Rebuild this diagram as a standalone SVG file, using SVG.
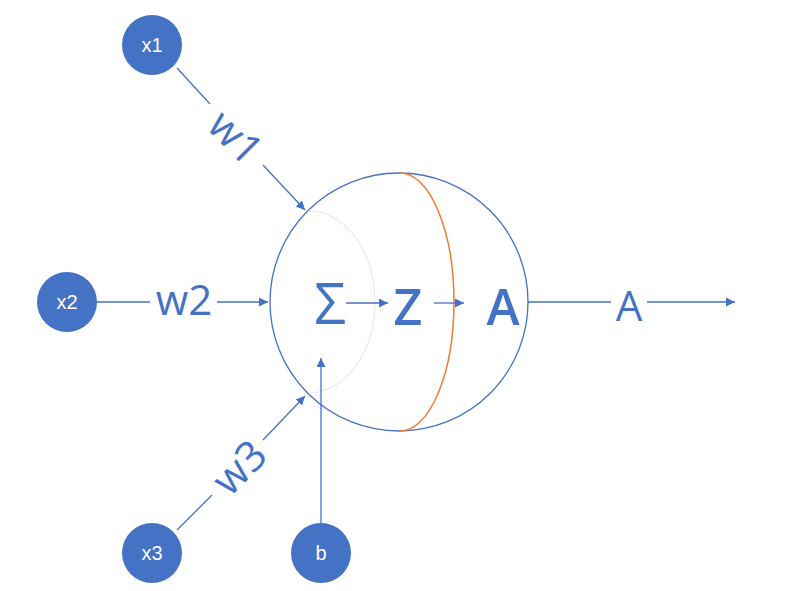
<svg xmlns="http://www.w3.org/2000/svg" width="806" height="591" viewBox="0 0 806 591">
<style>
.n{fill:#4472C4}
.nt{fill:#fff;font-family:"Liberation Sans",sans-serif;font-size:20px;text-anchor:middle;dominant-baseline:central}
.l{stroke:#4472C4;stroke-width:1.3;fill:none}
.big{fill:#4472C4;font-family:"Open Sans","Liberation Sans",sans-serif;text-anchor:middle;dominant-baseline:central}
</style>
<defs><marker id="ar" viewBox="0 0 10 10" refX="10" refY="5" markerWidth="9" markerHeight="9" markerUnits="userSpaceOnUse" orient="auto"><path d="M0,0L10,5L0,10z" fill="#4472C4"/></marker></defs>
<rect width="806" height="591" fill="#fff"/>
<g id="neuron">
<circle cx="399" cy="302" r="129" fill="#fff" stroke="#4472C4" stroke-width="1.3"/>
<path d="M309,211 A66,91 0 0 1 309,393" fill="none" stroke="#e4eaf5" stroke-width="1.2"/>
<path d="M400,173 A54,129 0 0 1 400,431" fill="none" stroke="#ED7D31" stroke-width="1.5"/>
<text class="big" x="330" y="302" font-size="56">Σ</text>
<text class="big" x="408" y="306" font-size="50" font-weight="600">Z</text>
<text class="big" x="503" y="306" font-size="50" font-weight="600">A</text>
</g>
<g id="connectors">
<line class="l" x1="177" y1="68" x2="210" y2="104"/>
<line class="l" x1="263" y1="165" x2="305" y2="210" marker-end="url(#ar)"/>
<text class="big" font-size="42" transform="translate(237,136) rotate(45)">w1</text>
<line class="l" x1="97" y1="302" x2="150" y2="302"/>
<line class="l" x1="217" y1="302" x2="268" y2="302" marker-end="url(#ar)"/>
<text class="big" font-size="42" x="184" y="298">w2</text>
<line class="l" x1="177" y1="530" x2="212" y2="495"/>
<line class="l" x1="263" y1="440" x2="305" y2="396" marker-end="url(#ar)"/>
<text class="big" font-size="42" transform="translate(238,466) rotate(-45)">w3</text>
<line class="l" x1="321" y1="523" x2="321" y2="358" marker-end="url(#ar)"/>
<line class="l" x1="346" y1="303" x2="388" y2="303" marker-end="url(#ar)"/>
<line class="l" x1="434" y1="303" x2="464" y2="303" marker-end="url(#ar)"/>
<line class="l" x1="528" y1="302" x2="611" y2="302"/>
<line class="l" x1="647" y1="302" x2="735" y2="302" marker-end="url(#ar)"/>
<text class="big" font-size="42" x="629" y="304">A</text>
</g>
<g id="x1"><circle class="n" cx="152" cy="45" r="30"/><text class="nt" x="152" y="45">x1</text></g>
<g id="x2"><circle class="n" cx="67" cy="302" r="30"/><text class="nt" x="67" y="302">x2</text></g>
<g id="x3"><circle class="n" cx="152" cy="553" r="30"/><text class="nt" x="152" y="553">x3</text></g>
<g id="b"><circle class="n" cx="321" cy="553" r="30"/><text class="nt" x="321" y="553">b</text></g>
</svg>
